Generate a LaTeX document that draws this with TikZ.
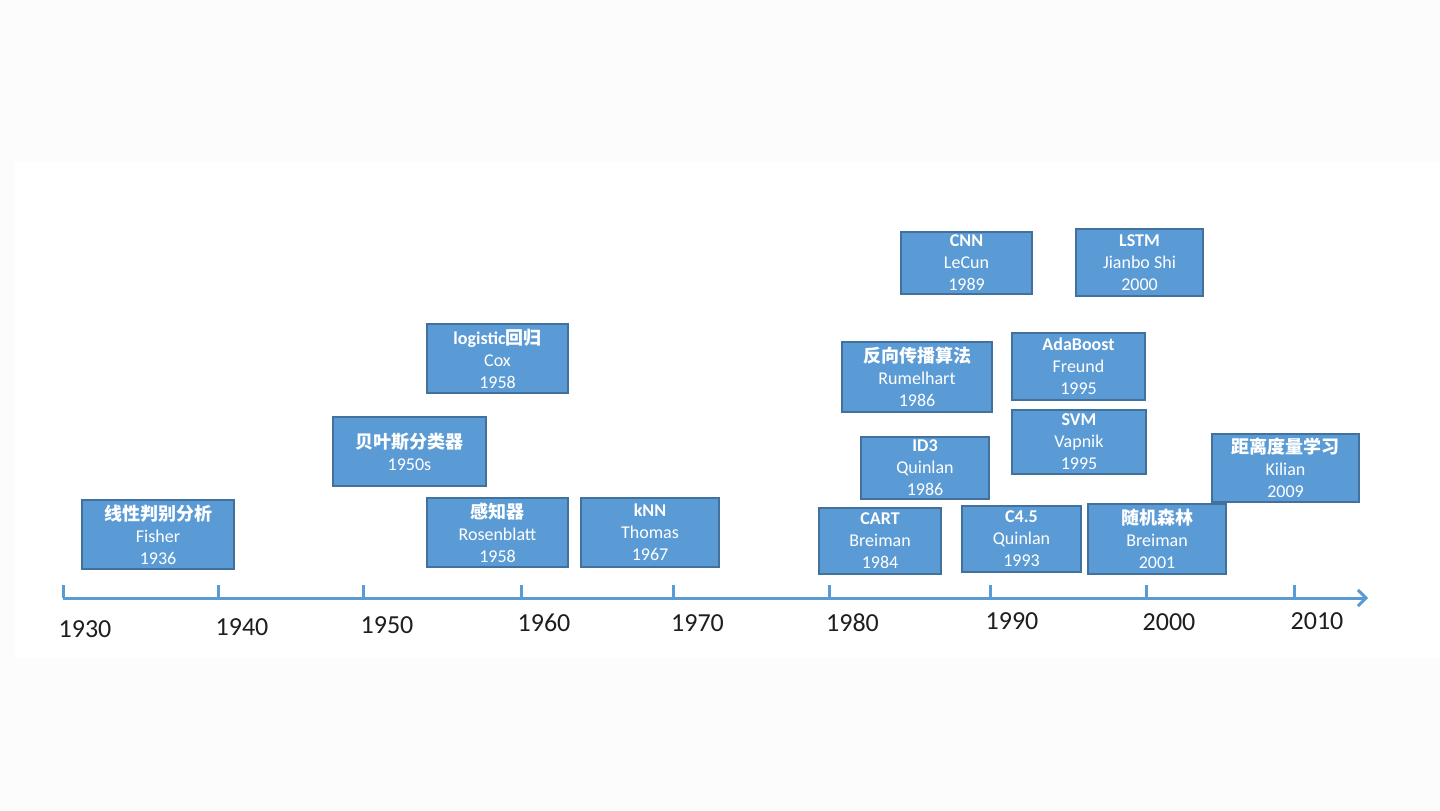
\documentclass[tikz,border=0pt]{standalone}
\usepackage{fontspec}
\setmainfont{Carlito}
\newfontfamily\cjk{Noto Sans CJK SC}
\usetikzlibrary{arrows.meta}
\definecolor{boxblue}{HTML}{5B9BD5}
\definecolor{boxedge}{HTML}{41719C}
\definecolor{axisblue}{HTML}{5B9BD5}
\definecolor{yeartext}{HTML}{1E1E1E}
\definecolor{outerbg}{HTML}{FCFCFC}
\begin{document}
\begin{tikzpicture}[x=1pt,y=-1pt,
  evt/.style={draw=boxedge, line width=1.4pt, fill=boxblue, text=white, align=center,
    inner sep=0pt, font=\fontsize{18}{22}\selectfont},
  axisline/.style={draw=axisblue, line width=3pt},
  yearlbl/.style={text=yeartext, font=\fontsize{26}{30}\selectfont, inner sep=0pt}]
% background
\fill[outerbg] (0,0) rectangle (1440,811);
\fill[white] (15,162) rectangle (1440,658);
\useasboundingbox (0,0) rectangle (1440,811);
% events
\node[evt, minimum width=152pt, minimum height=69pt] (fisher) at (158,534.5) {{\cjk\bfseries 线性判别分析}\\Fisher\\1936};
\node[evt, minimum width=153pt, minimum height=69pt] (bayes) at (409.5,451.5) {{\cjk\bfseries 贝叶斯分类器}\\1950s};
\node[evt, minimum width=141pt, minimum height=69pt] (logistic) at (497.5,358.5) {{\bfseries logistic{\cjk 回归}}\\Cox\\1958};
\node[evt, minimum width=141pt, minimum height=69pt] (percep) at (497.5,532.5) {{\cjk\bfseries 感知器}\\Rosenblatt\\1958};
\node[evt, minimum width=138pt, minimum height=69pt] (knn) at (650,532.5) {{\bfseries kNN}\\Thomas\\1967};
\node[evt, minimum width=131pt, minimum height=62pt] (cnn) at (966.5,263) {{\bfseries CNN}\\LeCun\\1989};
\node[evt, minimum width=127pt, minimum height=67pt] (lstm) at (1139.5,262.5) {{\bfseries LSTM}\\Jianbo Shi\\2000};
\node[evt, minimum width=150pt, minimum height=70pt] (bp) at (917,377) {{\cjk\bfseries 反向传播算法}\\Rumelhart\\1986};
\node[evt, minimum width=133pt, minimum height=67pt] (ada) at (1078.5,366.5) {{\bfseries AdaBoost}\\Freund\\1995};
\node[evt, minimum width=134pt, minimum height=64pt] (svm) at (1079,442) {{\bfseries SVM}\\Vapnik\\1995};
\node[evt, minimum width=128pt, minimum height=62pt] (id3) at (925,468) {{\bfseries ID3}\\Quinlan\\1986};
\node[evt, minimum width=122pt, minimum height=66pt] (cart) at (880,541) {{\bfseries CART}\\Breiman\\1984};
\node[evt, minimum width=119pt, minimum height=66pt] (c45) at (1021.5,539) {{\bfseries C4.5}\\Quinlan\\1993};
\node[evt, minimum width=138pt, minimum height=70pt] (rf) at (1157,539) {{\cjk\bfseries 随机森林}\\Breiman\\2001};
\node[evt, minimum width=147pt, minimum height=68pt] (metric) at (1285.5,468) {{\cjk\bfseries 距离度量学习}\\Kilian\\2009};
% axis
\coordinate (t1930) at (63,598);
\coordinate (t1940) at (218,598);
\coordinate (t1950) at (363,598);
\coordinate (t1960) at (521,598);
\coordinate (t1970) at (673,598);
\coordinate (t1980) at (829,598);
\coordinate (t1990) at (990,598);
\coordinate (t2000) at (1146,598);
\coordinate (t2010) at (1294,598);
\coordinate (axend) at (1368,598);
\draw[axisline, -{Straight Barb[length=8pt,width=16pt]}] (t1930) -- (axend);
\foreach \t in {t1930,t1940,t1950,t1960,t1970,t1980,t1990,t2000,t2010}
  \draw[axisline] (\t) -- ++(0,-13);
% year labels
\node[yearlbl] (l1930) at (85,629) {1930};
\node[yearlbl] (l1940) at (242,627) {1940};
\node[yearlbl] (l1950) at (387,625) {1950};
\node[yearlbl] (l1960) at (544,623) {1960};
\node[yearlbl] (l1970) at (697.5,623) {1970};
\node[yearlbl] (l1980) at (852.5,623) {1980};
\node[yearlbl] (l1990) at (1012,621) {1990};
\node[yearlbl] (l2000) at (1169,622) {2000};
\node[yearlbl] (l2010) at (1317,621) {2010};
\end{tikzpicture}
\end{document}
